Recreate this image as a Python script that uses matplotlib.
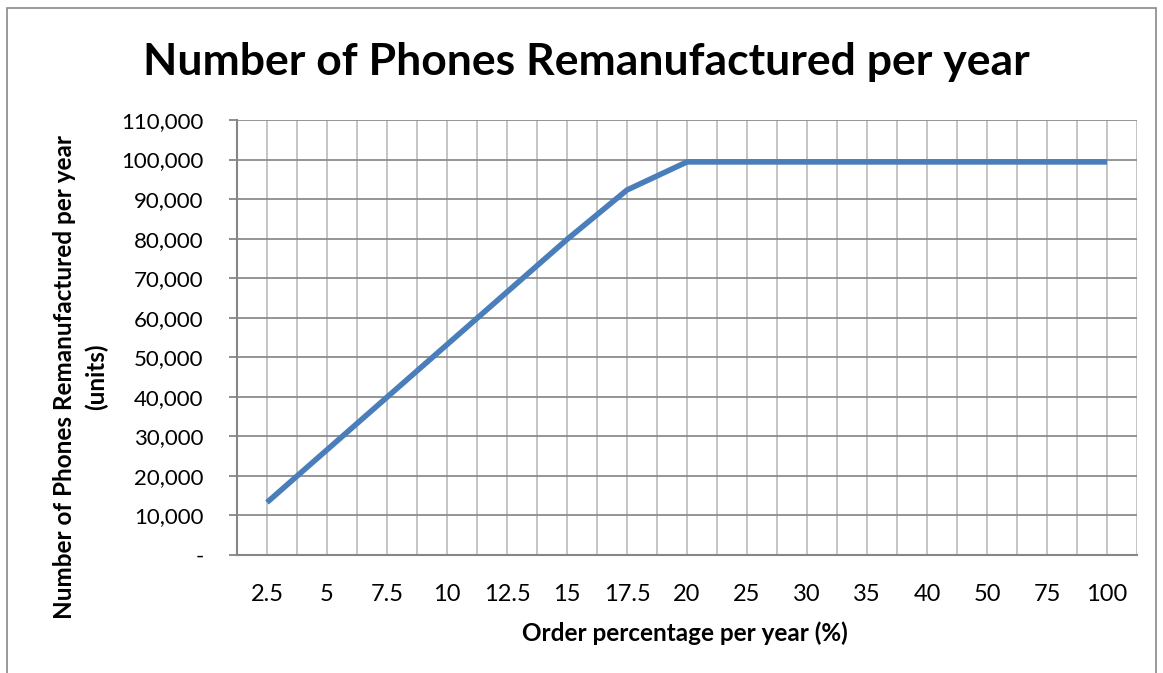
import matplotlib.pyplot as plt
from matplotlib.patches import Rectangle
from matplotlib.ticker import FuncFormatter

# Data
order_pct = ["2.5", "5", "7.5", "10", "12.5", "15", "17.5", "20",
             "25", "30", "35", "40", "50", "75", "100"]
phones = [13300, 26600, 39900, 53200, 66500, 79800, 92300, 99400,
          99400, 99400, 99400, 99400, 99400, 99400, 99400]
y_ticks = list(range(0, 110001, 10000))

plt.rcParams["font.family"] = ["Lato", "DejaVu Sans"]

W, H = 1163, 673
fig = plt.figure(figsize=(W / 100, H / 100), dpi=100)
fig.patch.set_facecolor("white")

# outer chart frame
fig.patches.append(Rectangle((7 / W, -0.05), (1156 - 7) / W, (H - 8) / H + 0.05,
                             transform=fig.transFigure, fill=False,
                             edgecolor="#898989", linewidth=1.2))

ax = fig.add_axes([237 / W, (H - 555) / H, 900 / W, 435 / H])

x = range(len(order_pct))
ax.plot(x, phones, color="#4A7EBB", linewidth=4, solid_capstyle="butt", zorder=3)

ax.set_xlim(-0.5, len(order_pct) - 0.5)
ax.set_ylim(0, 110000)

# grid: light vertical every half category, darker horizontal
for xv in [i * 0.5 - 0.5 for i in range(1, 2 * len(order_pct) + 1)]:
    ax.axvline(xv, color="#BFBFBF", linewidth=1.3, zorder=1)
for yv in y_ticks[1:]:
    ax.axhline(yv, color="#8C8C8C", linewidth=1.3, zorder=1)

ax.set_xticks(list(x))
ax.set_xticklabels(order_pct)
ax.set_yticks(y_ticks)
ax.yaxis.set_major_formatter(FuncFormatter(lambda v, p: "-" if v == 0 else f"{int(v):,}"))

for side in ["top", "right"]:
    ax.spines[side].set_visible(False)
for side in ["left", "bottom"]:
    ax.spines[side].set_color("#868686")
    ax.spines[side].set_linewidth(1.5)

ax.tick_params(axis="x", length=0, pad=21, labelsize=17)
ax.tick_params(axis="y", length=6, width=1.3, color="#868686", pad=18, labelsize=16)

fig.text(586 / W, 1 - 62 / H, "Number of Phones Remanufactured per year",
         ha="center", va="center", fontsize=32, fontweight="bold")
fig.text(685 / W, 1 - 633 / H, "Order percentage per year (%)",
         ha="center", va="center", fontsize=17.5, fontweight="bold")
fig.text(81 / W, 1 - 377 / H, "Number of Phones Remanufactured per year\n(units)",
         ha="center", va="center", rotation=90, fontsize=17.5,
         fontweight="bold", linespacing=1.45)

fig.savefig("out.png", dpi=100)
